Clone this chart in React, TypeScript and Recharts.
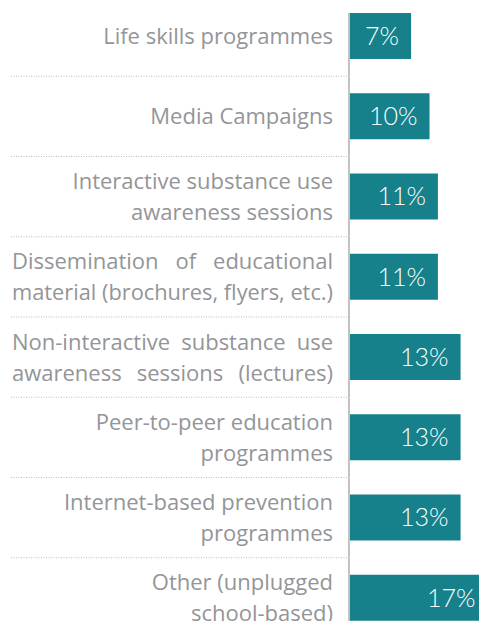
import { BarChart, Bar, XAxis, YAxis, LabelList } from "recharts"

// categories (label lines) and estimated shares
const categories = [
  "Life skills programmes",
  "Media Campaigns",
  "Interactive substance use|awareness sessions",
  "Dissemination of educational|material (brochures, flyers, etc.)",
  "Non-interactive substance use|awareness sessions (lectures)",
  "Peer-to-peer education|programmes",
  "Internet-based prevention|programmes",
  "Other (unplugged|school-based)",
]
const justified = [false, false, false, true, true, false, false, false]
const shares = [7.4, 9.6, 10.6, 10.6, 13.3, 13.3, 13.3, 16.5]

const data = categories.map((name, i) => ({ name, share: shares[i] }))

const CHART_W = 500
const CHART_H = 642
const AXIS_W = 349
const BAR_SIZE = 46
const BAND = CHART_H / categories.length
const LABEL_FONT = "'Open Sans'"
const VALUE_FONT = "Lato, sans-serif"
const TEXT_SIZE = 22
const LINE_H = 31
const LEFT = 12

// the chart fills the whole page, no default body margin
if (typeof document !== "undefined") document.body.style.margin = "0"

let ctx: CanvasRenderingContext2D | null = null
function measure(text: string) {
  if (!ctx) ctx = document.createElement("canvas").getContext("2d")
  if (!ctx) return 0
  ctx.font = `${TEXT_SIZE}px ${LABEL_FONT}`
  return ctx.measureText(text).width
}

function CategoryTick(props: any) {
  const { x, y, payload, index } = props
  const axisX = x + 16
  const lines: string[] = String(payload.value).split("|")
  const just = justified[index]
  const top = y - ((lines.length - 1) * LINE_H) / 2
  const target = x - LEFT
  return (
    <g>
      {lines.map((line, i) => {
        const w = measure(line)
        if (!just) {
          return (
            <text
              key={i}
              x={x}
              y={top + i * LINE_H}
              dy="0.36em"
              textAnchor="end"
              fill="#939598"
              fontSize={TEXT_SIZE}
              fontFamily={LABEL_FONT}
              textLength={w > target ? target : undefined}
              lengthAdjust="spacingAndGlyphs"
            >
              {line}
            </text>
          )
        }
        const gaps = line.split(" ").length - 1
        const extra = gaps > 0 && w < target ? (target - w) / gaps : 0
        return (
          <text
            key={i}
            x={LEFT}
            y={top + i * LINE_H}
            dy="0.36em"
            textAnchor="start"
            fill="#939598"
            fontSize={TEXT_SIZE}
            fontFamily={LABEL_FONT}
            wordSpacing={extra}
            textLength={w > target ? target : undefined}
            lengthAdjust="spacingAndGlyphs"
          >
            {line}
          </text>
        )
      })}
      {index < categories.length - 1 && (
        <line x1={11} x2={axisX} y1={y + BAND / 2} y2={y + BAND / 2} stroke="#bdbdbd" strokeDasharray="1 1.5" strokeWidth={1} />
      )}
      <line
        x1={axisX}
        x2={axisX}
        y1={index === 0 ? y - BAR_SIZE / 2 : y - BAND / 2}
        y2={y + BAND / 2}
        stroke="#c2c2c2"
        strokeWidth={2}
      />
    </g>
  )
}

export default function App() {
  return (
    <div style={{ width: 479, height: 621, overflow: "hidden", background: "#fff" }}>
      <div style={{ marginTop: -4 }}>
        <BarChart
          width={CHART_W}
          height={CHART_H}
          data={data}
          layout="vertical"
          margin={{ top: 0, right: 0, bottom: 0, left: 0 }}
          barCategoryGap={0}
        >
          <XAxis type="number" domain={[0, 18]} hide />
          <YAxis
            type="category"
            dataKey="name"
            width={AXIS_W}
            axisLine={false}
            tickLine={false}
            tickSize={0}
            tickMargin={16}
            interval={0}
            tick={<CategoryTick />}
          />
          <Bar dataKey="share" fill="#16818a" barSize={BAR_SIZE} isAnimationActive={false}>
            <LabelList
              dataKey="share"
              position="insideRight"
              offset={12}
              formatter={(v: any) => `${Math.round(Number(v))}%`}
              fill="#ffffff"
              fontSize={25}
              fontWeight={300}
              fontFamily={VALUE_FONT}
            />
          </Bar>
        </BarChart>
      </div>
    </div>
  )
}
